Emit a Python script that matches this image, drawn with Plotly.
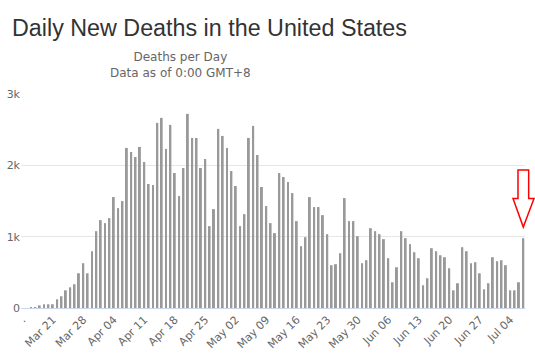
import pandas as pd
import plotly.graph_objects as go

start_date = "2020-03-16"
deaths = [10, 10, 37, 52, 52, 52, 122, 164, 248, 290, 333, 487, 628, 487, 796,
          1077, 1232, 1190, 1260, 1555, 1400, 1499, 2244, 2187, 2117, 2258, 2047,
          1738, 1724, 2595, 2665, 2230, 2567, 1892, 1569, 1963, 2721, 2384, 2384,
          1963, 2089, 1148, 1386, 2511, 2412, 2244, 1920, 1710, 1148, 1316, 2384,
          2553, 2145, 1696, 1429, 1190, 1049, 1892, 1836, 1766, 1611, 1218, 867,
          993, 1555, 1415, 1415, 1302, 1035, 600, 614, 768, 1541, 1218, 1218,
          1007, 628, 670, 1119, 1077, 1035, 965, 698, 361, 571, 1077, 979, 895,
          782, 698, 319, 417, 838, 796, 740, 712, 557, 248, 347, 852, 796, 628,
          642, 487, 262, 347, 712, 656, 670, 600, 248, 248, 361, 979]
dates = pd.date_range(start_date, periods=len(deaths), freq="D")

tick_dates = pd.date_range("2020-03-14", "2020-07-04", freq="7D")
tick_labels = [".", "Mar 21", "Mar 28", "Apr 04", "Apr 11", "Apr 18", "Apr 25",
               "May 02", "May 09", "May 16", "May 23", "May 30", "Jun 06",
               "Jun 13", "Jun 20", "Jun 27", "Jul 04"]
y_ticks = [0, 1000, 2000, 3000]
y_labels = ["0", "1k", "2k", "3k"]

fig = go.Figure(go.Bar(x=dates, y=deaths, marker=dict(color="#999999", line=dict(width=0)),
                       hoverinfo="x+y"))

W, H = 535, 362
L, R, T, B = 21, 10, 94, 54
fig.update_layout(
    width=W, height=H,
    margin=dict(l=L, r=R, t=T, b=B, autoexpand=False),
    paper_bgcolor="white", plot_bgcolor="white",
    bargap=0.55,
    showlegend=False,
    title=dict(text="Daily New Deaths in the United States", xref="container", yref="container",
               x=12 / W, xanchor="left", y=1 - 28 / H, yanchor="middle",
               pad=dict(l=0, r=0, t=0, b=0),
               font=dict(family="Liberation Sans, Arial", size=23.3, color="#333333")),
    font=dict(family="DejaVu Sans", color="#666666"),
)
fig.add_annotation(text="Deaths per Day<br>Data as of 0:00 GMT+8", xref="paper", yref="paper",
                   x=(180 - L) / (W - L - R), y=1 + (94 - 65) / (H - T - B), xanchor="center",
                   yanchor="middle", showarrow=False,
                   font=dict(family="DejaVu Sans", size=12, color="#666666"))
fig.update_xaxes(range=["2020-03-13 17:00", "2020-07-07 09:20"], tickvals=tick_dates,
                 ticktext=tick_labels, tickangle=-45, showgrid=False, automargin=False,
                 showline=True, linecolor="#ccd6eb", linewidth=1,
                 tickfont=dict(family="DejaVu Sans", size=11, color="#666666"), ticks="")
fig.update_yaxes(range=[0, 3000], tickvals=y_ticks, ticktext=y_labels, showgrid=True,
                 gridcolor="#e6e6e6", zeroline=False, showline=False, ticks="", automargin=False,
                 tickfont=dict(family="DejaVu Sans", size=11, color="#666666"))

pw = W - L - R
ph = H - T - B
def px(xp):
    return (xp - L) / pw
def py(yp):
    return (H - B - yp) / ph
arrow = [(518, 170), (528.7, 170), (528.7, 198.5), (534, 198.5), (523.3, 227),
         (513, 198.5), (518, 198.5)]
path = "M " + " L ".join(f"{px(a):.4f},{py(b):.4f}" for a, b in arrow) + " Z"
fig.add_shape(type="path", path=path, xref="paper", yref="paper",
              line=dict(color="#ff0000", width=1.5), fillcolor="rgba(0,0,0,0)")

fig.write_html("out.html", config={"displayModeBar": False},
               post_script="document.body.style.margin='0';document.body.style.overflow='hidden';")
